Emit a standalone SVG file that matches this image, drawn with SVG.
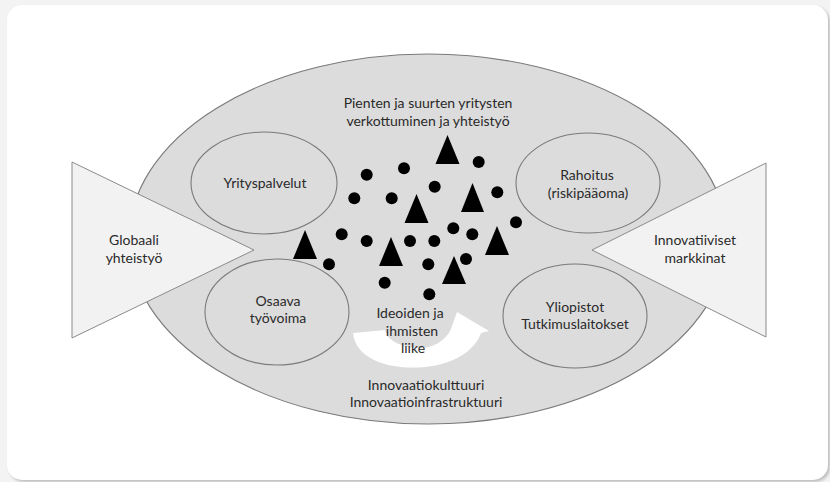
<svg xmlns="http://www.w3.org/2000/svg" width="830" height="482" viewBox="0 0 830 482">
  <defs>
    <style>
      .lbl { font-family: Lato, "Open Sans", "Liberation Sans", sans-serif; font-size: 14px; fill: #2a2a2a; text-anchor: middle; }
      .zone { fill: #dcdcdc; stroke: #7a7a7a; stroke-width: 1.1; }
      .wing { fill: #f2f2f2; stroke: #8a8a8a; stroke-width: 1; }
      .dot { fill: #000; }
      .tri { fill: #000; }
    </style>
    <filter id="soft" x="-5%" y="-5%" width="110%" height="110%">
      <feGaussianBlur stdDeviation="1.5"/>
    </filter>
  </defs>

  <!-- page and card -->
  <rect x="0" y="0" width="830" height="482" fill="#f3f3f3"/>
  <rect x="9" y="7" width="821" height="475" rx="15" fill="#bdbdbd" filter="url(#soft)"/>
  <rect x="7" y="5" width="821" height="475" rx="15" fill="#ffffff"/>

  <!-- outer innovation environment -->
  <g id="environment">
    <ellipse class="zone" cx="428" cy="239" rx="299" ry="185"/>
  </g>

  <!-- side inputs -->
  <g id="globaali">
    <polygon class="wing" points="72,162 254,250 72,338"/>
    <text class="lbl" x="134" y="245">Globaali</text>
    <text class="lbl" x="134" y="263">yhteistyö</text>
  </g>
  <g id="markkinat">
    <polygon class="wing" points="766,163 592,250 766,337"/>
    <text class="lbl" x="695" y="245">Innovatiiviset</text>
    <text class="lbl" x="695" y="263">markkinat</text>
  </g>

  <!-- inner actors -->
  <g id="yrityspalvelut">
    <ellipse class="zone" cx="264" cy="183" rx="73" ry="51"/>
    <text class="lbl" x="265" y="188">Yrityspalvelut</text>
  </g>
  <g id="rahoitus">
    <ellipse class="zone" cx="588" cy="183" rx="72" ry="50"/>
    <text class="lbl" x="587" y="180">Rahoitus</text>
    <text class="lbl" x="588" y="198">(riskipääoma)</text>
  </g>
  <g id="osaava">
    <ellipse class="zone" cx="277" cy="312" rx="72" ry="53"/>
    <text class="lbl" x="278" y="306">Osaava</text>
    <text class="lbl" x="278" y="323">työvoima</text>
  </g>
  <g id="yliopistot">
    <ellipse class="zone" cx="575" cy="316" rx="72" ry="52"/>
    <text class="lbl" x="575" y="312">Yliopistot</text>
    <text class="lbl" x="575" y="329">Tutkimuslaitokset</text>
  </g>

  <!-- networking cloud -->
  <g id="verkosto">
    <text class="lbl" x="428" y="108">Pienten ja suurten yritysten</text>
    <text class="lbl" x="428" y="126">verkottuminen ja yhteistyö</text>
    <g>
      <polygon class="tri" points="447.5,135 435.5,164 459.5,164"/>
      <polygon class="tri" points="472.5,183 461,212 484,212"/>
      <polygon class="tri" points="416.5,194 404.5,223 428.5,223"/>
      <polygon class="tri" points="305,230 293,259 317,259"/>
      <polygon class="tri" points="391,237 379,266 403,266"/>
      <polygon class="tri" points="497,226 485,255 509,255"/>
      <polygon class="tri" points="454,256 442,284 466,284"/>
    </g>
    <g>
      <circle class="dot" cx="366.7" cy="174.7" r="6"/>
      <circle class="dot" cx="404" cy="168.3" r="6"/>
      <circle class="dot" cx="478.7" cy="162" r="6"/>
      <circle class="dot" cx="434.7" cy="186.7" r="6"/>
      <circle class="dot" cx="354.3" cy="198.3" r="6"/>
      <circle class="dot" cx="391.7" cy="198.3" r="6"/>
      <circle class="dot" cx="497.3" cy="192.3" r="6"/>
      <circle class="dot" cx="341.7" cy="234.3" r="6"/>
      <circle class="dot" cx="366.7" cy="241" r="6"/>
      <circle class="dot" cx="410" cy="241" r="6"/>
      <circle class="dot" cx="434.3" cy="241" r="6"/>
      <circle class="dot" cx="453.3" cy="228.3" r="6"/>
      <circle class="dot" cx="472.3" cy="234.3" r="6"/>
      <circle class="dot" cx="516" cy="222.3" r="6"/>
      <circle class="dot" cx="329" cy="264.3" r="6"/>
      <circle class="dot" cx="428.3" cy="264.3" r="6"/>
      <circle class="dot" cx="466" cy="259" r="6"/>
      <circle class="dot" cx="384.7" cy="282.7" r="6"/>
      <circle class="dot" cx="429.3" cy="294.3" r="6"/>
    </g>
  </g>

  <!-- circulation of ideas and people -->
  <g id="liike">
    <path fill="#ffffff" d="M 353 333 C 356 362, 395 370, 425 367 C 455 364, 475 350, 481 333 L 489 331 L 457 312 L 452 326 C 448 340, 432 349, 418 348 C 400 347, 387 340, 385 330 Z"/>
    <text class="lbl" x="410" y="318">Ideoiden ja</text>
    <text class="lbl" x="412" y="336">ihmisten</text>
    <text class="lbl" x="413" y="353">liike</text>
  </g>

  <!-- cultural base -->
  <g id="kulttuuri">
    <text class="lbl" x="426" y="390">Innovaatiokulttuuri</text>
    <text class="lbl" x="426" y="407">Innovaatioinfrastruktuuri</text>
  </g>
</svg>
